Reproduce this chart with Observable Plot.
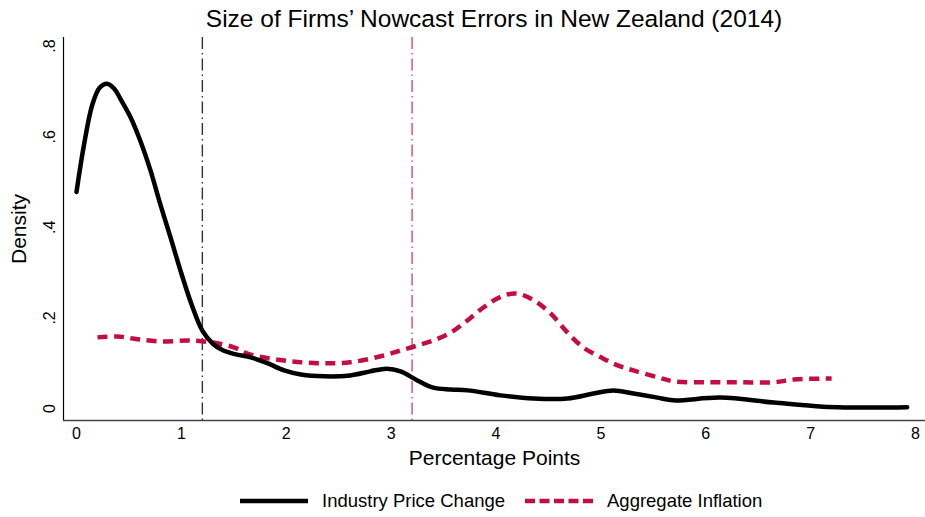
<!DOCTYPE html>
<html>
<head>
<meta charset="utf-8">
<script src="https://cdn.jsdelivr.net/npm/d3@7"></script>
<script src="https://cdn.jsdelivr.net/npm/@observablehq/plot@0.6"></script>
<style>
  body { margin: 0; background: #fff; font-family: "Liberation Sans", Arial, sans-serif; }
  #wrap { width: 925px; height: 517px; position: relative; overflow: hidden; }
  #title { height: 37px; line-height: 37px; padding-left: 63px; text-align: center; font-size: 24.5px; color: #000; white-space: nowrap; }
  #legend { position: relative; height: 32px; font-size: 18.5px; color: #000; }
  #legend .item { position: absolute; top: 0; height: 32px; display: flex; align-items: center; }
  #legend svg { display: block; }
  #legend span { margin-left: 14px; }
</style>
</head>
<body>
<div id="wrap">
  <div id="title">Size of Firms’ Nowcast Errors in New Zealand (2014)</div>
  <div id="chart"></div>
  <div id="legend"></div>
</div>
<script>
// ---- data ----
const seriesNames = ["Industry Price Change", "Aggregate Inflation"];

const industryX = [0, 0.07, 0.15, 0.22, 0.29, 0.36, 0.42, 0.515, 0.61, 0.706, 0.80, 0.90, 1.00, 1.10, 1.20, 1.30, 1.40, 1.53, 1.66, 1.82, 1.98, 2.14, 2.36, 2.61, 2.80, 2.96, 3.09, 3.25, 3.40, 3.57, 3.73, 4.04, 4.36, 4.68, 4.93, 5.12, 5.31, 5.54, 5.69, 6.14, 6.65, 7.12, 7.60, 7.92];
const industryY = [0.478, 0.580, 0.670, 0.708, 0.717, 0.706, 0.683, 0.643, 0.590, 0.525, 0.450, 0.375, 0.298, 0.228, 0.172, 0.143, 0.128, 0.119, 0.113, 0.100, 0.084, 0.075, 0.071, 0.073, 0.082, 0.088, 0.082, 0.062, 0.046, 0.042, 0.040, 0.029, 0.022, 0.022, 0.033, 0.040, 0.033, 0.024, 0.018, 0.024, 0.013, 0.004, 0.002, 0.003];

const aggregateX = [0.20, 0.39, 0.58, 0.80, 1.06, 1.21, 1.34, 1.50, 1.66, 1.98, 2.30, 2.61, 2.93, 3.09, 3.25, 3.40, 3.57, 3.73, 3.88, 4.04, 4.19, 4.36, 4.52, 4.68, 4.83, 5.00, 5.16, 5.31, 5.54, 5.69, 6.02, 6.33, 6.65, 6.84, 7.16, 7.20];
const aggregateY = [0.157, 0.159, 0.153, 0.148, 0.150, 0.148, 0.144, 0.135, 0.119, 0.106, 0.100, 0.102, 0.117, 0.128, 0.139, 0.150, 0.168, 0.195, 0.223, 0.246, 0.254, 0.239, 0.210, 0.168, 0.135, 0.113, 0.095, 0.084, 0.069, 0.060, 0.058, 0.058, 0.058, 0.064, 0.066, 0.066];

const meanLines = [1.2, 3.2]; // vertical reference lines (industry, aggregate)

const xTicks = [0, 1, 2, 3, 4, 5, 6, 7, 8];
const yTicks = [0, 0.2, 0.4, 0.6, 0.8];
const yTickLabels = ["0", ".2", ".4", ".6", ".8"];

const xDomain = [-0.124, 8.095];
const yDomain = [-0.0265, 0.819];

// ---- build ----
const industry = industryX.map((x, i) => ({x, y: industryY[i]}));
const aggregate = aggregateX.map((x, i) => ({x, y: aggregateY[i]}));

const black = "#000000";
const red = "#c40d42";
const font = '"Liberation Sans", Arial, sans-serif';

const chart = Plot.plot({
  width: 925,
  height: 448,
  marginLeft: 63,
  marginRight: 0,
  marginTop: 0,
  marginBottom: 65,
  style: {fontFamily: font, fontSize: "16px", color: "#000", background: "#fff"},
  x: {domain: xDomain},
  y: {domain: yDomain},
  marks: [
    Plot.ruleX([meanLines[0]], {stroke: "#333", strokeWidth: 1.4, strokeDasharray: "12,4,1.5,4"}),
    Plot.ruleX([meanLines[1]], {stroke: red, strokeOpacity: 0.65, strokeWidth: 1.6, strokeDasharray: "12,4,1.5,4"}),
    Plot.line(aggregate, {x: "x", y: "y", stroke: red, strokeWidth: 4.5, strokeDasharray: "10,6.5", strokeLinecap: "butt", curve: "catmull-rom"}),
    Plot.line(industry, {x: "x", y: "y", stroke: black, strokeWidth: 4.5, curve: "catmull-rom"}),
    Plot.ruleX([xDomain[0]], {stroke: "#000", strokeWidth: 1.2}),
    Plot.ruleY([yDomain[0]], {stroke: "#444", strokeWidth: 1.4}),
    Plot.axisX({ticks: xTicks, tickSize: 0, tickPadding: 7, tickFormat: d => String(d), fontSize: 16, label: null}),
    Plot.axisY({ticks: [], label: null}),
    Plot.text(yTicks, {y: d => d, text: (d, i) => yTickLabels[i], frameAnchor: "left", dx: -14, rotate: -90, textAnchor: "middle", lineAnchor: "middle", fontSize: 16, fill: "#000"}),
    Plot.text(["Density"], {frameAnchor: "left", dx: -44, rotate: -90, textAnchor: "middle", lineAnchor: "middle", fontSize: 21, fill: "#000"}),
    Plot.text(["Percentage Points"], {frameAnchor: "bottom", dy: 38, textAnchor: "middle", lineAnchor: "middle", fontSize: 21, fill: "#000"})
  ]
});
document.getElementById("chart").appendChild(chart);

// ---- legend ----
const legend = document.getElementById("legend");
const items = [
  {name: seriesNames[0], left: 240, stroke: black, dash: null},
  {name: seriesNames[1], left: 525, stroke: red, dash: "10,4.5"}
];
for (const it of items) {
  const div = document.createElement("div");
  div.className = "item";
  div.style.left = it.left + "px";
  div.innerHTML = `<svg width="68" height="10"><line x1="0" x2="68" y1="5" y2="5" stroke="${it.stroke}" stroke-width="4.5" ${it.dash ? `stroke-dasharray="${it.dash}"` : ""}/></svg><span>${it.name}</span>`;
  legend.appendChild(div);
}
</script>
</body>
</html>
